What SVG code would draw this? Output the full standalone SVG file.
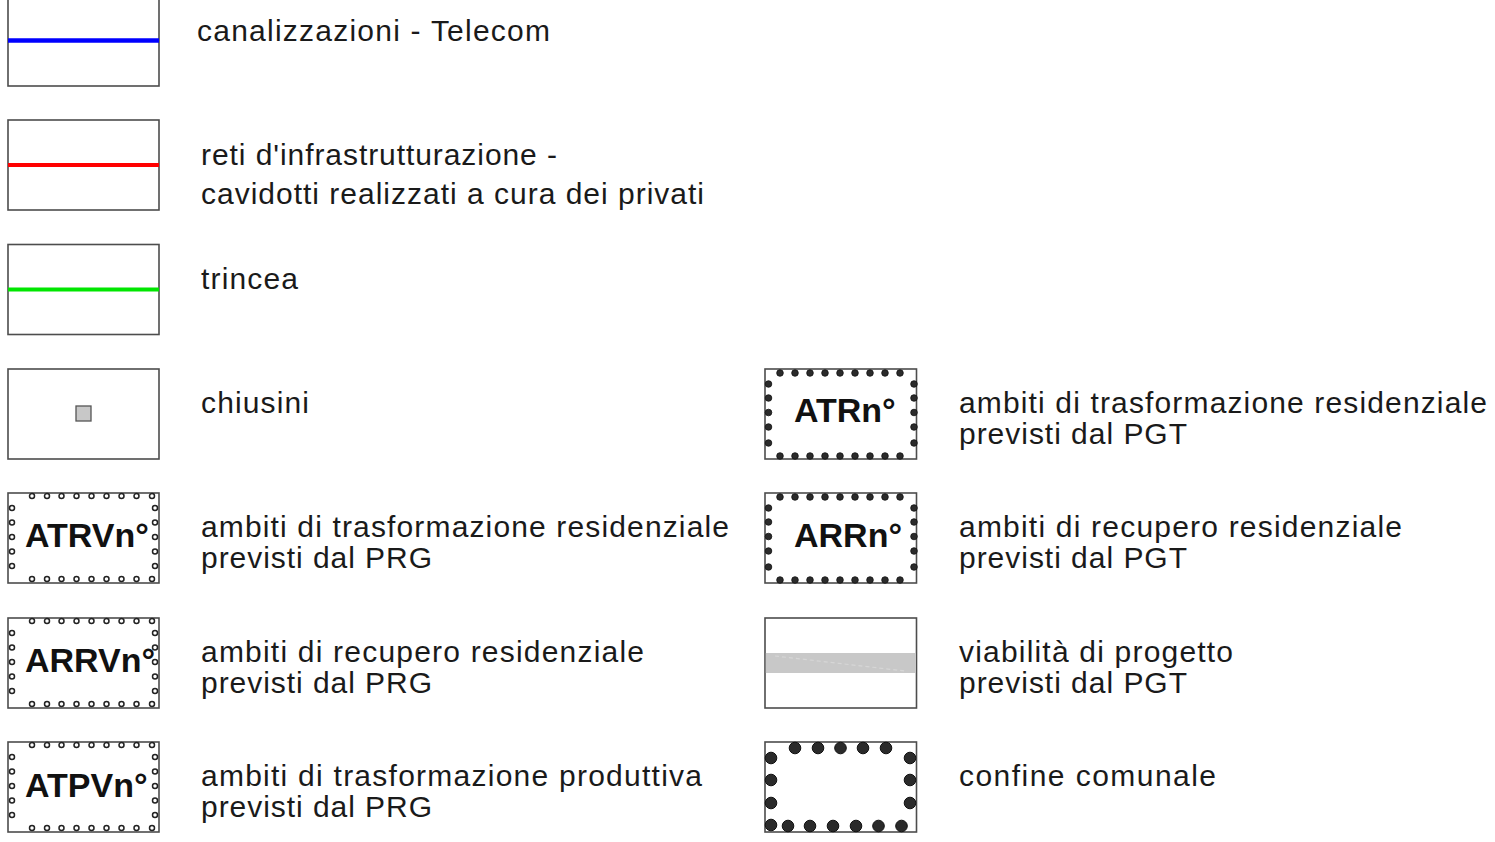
<svg xmlns="http://www.w3.org/2000/svg" width="1495" height="842" viewBox="0 0 1495 842">
<style>
.box{fill:#fff;stroke:#4d4d4d;stroke-width:1.6}
.t{font-family:"Liberation Sans",Arial,sans-serif;font-size:30px;fill:#1a1a1a}
.b{font-family:"Liberation Sans",Arial,sans-serif;font-size:34px;font-weight:bold;fill:#111}
.oc{fill:#fff;stroke:#222;stroke-width:1.5}
.fd{fill:#2b2b2b;stroke:#111;stroke-width:0.8}
.bd{fill:#2a2a2a;stroke:#111;stroke-width:1}
</style>
<defs>
<g id="openDots">
<circle class="oc" cx="24" cy="3" r="2.5"/><circle class="oc" cx="39" cy="3" r="2.5"/><circle class="oc" cx="53.5" cy="3" r="2.5"/><circle class="oc" cx="68.5" cy="3" r="2.5"/><circle class="oc" cx="83.5" cy="3" r="2.5"/><circle class="oc" cx="98.5" cy="3" r="2.5"/><circle class="oc" cx="113.5" cy="3" r="2.5"/><circle class="oc" cx="128.5" cy="3" r="2.5"/><circle class="oc" cx="144" cy="3" r="2.5"/>
<circle class="oc" cx="24" cy="86" r="2.5"/><circle class="oc" cx="39" cy="86" r="2.5"/><circle class="oc" cx="53.5" cy="86" r="2.5"/><circle class="oc" cx="68.5" cy="86" r="2.5"/><circle class="oc" cx="83.5" cy="86" r="2.5"/><circle class="oc" cx="98.5" cy="86" r="2.5"/><circle class="oc" cx="113.5" cy="86" r="2.5"/><circle class="oc" cx="128.5" cy="86" r="2.5"/><circle class="oc" cx="144" cy="86" r="2.5"/>
<circle class="oc" cx="4" cy="15" r="2.5"/><circle class="oc" cx="4" cy="29.5" r="2.5"/><circle class="oc" cx="4" cy="44" r="2.5"/><circle class="oc" cx="4" cy="58.5" r="2.5"/><circle class="oc" cx="4" cy="73" r="2.5"/>
<circle class="oc" cx="147" cy="15" r="2.5"/><circle class="oc" cx="147" cy="29.5" r="2.5"/><circle class="oc" cx="147" cy="44" r="2.5"/><circle class="oc" cx="147" cy="58.5" r="2.5"/><circle class="oc" cx="147" cy="73" r="2.5"/>
</g>
<g id="fillDots">
<circle class="fd" cx="15" cy="4" r="3.3"/><circle class="fd" cx="30" cy="4" r="3.3"/><circle class="fd" cx="45" cy="4" r="3.3"/><circle class="fd" cx="60" cy="4" r="3.3"/><circle class="fd" cx="75" cy="4" r="3.3"/><circle class="fd" cx="90" cy="4" r="3.3"/><circle class="fd" cx="105" cy="4" r="3.3"/><circle class="fd" cx="120" cy="4" r="3.3"/><circle class="fd" cx="135" cy="4" r="3.3"/>
<circle class="fd" cx="15" cy="87" r="3.3"/><circle class="fd" cx="30" cy="87" r="3.3"/><circle class="fd" cx="45" cy="87" r="3.3"/><circle class="fd" cx="60" cy="87" r="3.3"/><circle class="fd" cx="75" cy="87" r="3.3"/><circle class="fd" cx="90" cy="87" r="3.3"/><circle class="fd" cx="105" cy="87" r="3.3"/><circle class="fd" cx="120" cy="87" r="3.3"/><circle class="fd" cx="135" cy="87" r="3.3"/>
<circle class="fd" cx="3.5" cy="15" r="3.3"/><circle class="fd" cx="3.5" cy="29" r="3.3"/><circle class="fd" cx="3.5" cy="43.5" r="3.3"/><circle class="fd" cx="3.5" cy="58" r="3.3"/><circle class="fd" cx="3.5" cy="74" r="3.3"/>
<circle class="fd" cx="149" cy="15" r="3.3"/><circle class="fd" cx="149" cy="29" r="3.3"/><circle class="fd" cx="149" cy="43.5" r="3.3"/><circle class="fd" cx="149" cy="58" r="3.3"/><circle class="fd" cx="149" cy="74" r="3.3"/>
</g>
</defs>
<rect width="1495" height="842" fill="#fff"/>

<g id="telecom">
<rect class="box" x="8" y="-4" width="151" height="90"/>
<line x1="8" y1="40.5" x2="159" y2="40.5" stroke="#0000ff" stroke-width="4.5"/>
<text class="t" x="197" y="41" textLength="353">canalizzazioni - Telecom</text>
</g>
<g id="reti">
<rect class="box" x="8" y="120" width="151" height="90"/>
<line x1="8" y1="165" x2="159" y2="165" stroke="#ff0000" stroke-width="4"/>
<text class="t" x="201" y="165" textLength="356">reti d'infrastrutturazione -</text>
<text class="t" x="201" y="204" textLength="503">cavidotti realizzati a cura dei privati</text>
</g>
<g id="trincea">
<rect class="box" x="8" y="244.5" width="151" height="90"/>
<line x1="8" y1="289.5" x2="159" y2="289.5" stroke="#00e600" stroke-width="4"/>
<text class="t" x="201" y="289" textLength="97">trincea</text>
</g>
<g id="chiusini">
<rect class="box" x="8" y="369" width="151" height="90"/>
<rect x="76" y="406" width="15" height="15" fill="#c8c8c8" stroke="#555" stroke-width="1.3"/>
<text class="t" x="201" y="413" textLength="108">chiusini</text>
</g>
<g id="atrv">
<rect class="box" x="8" y="493" width="151" height="90"/>
<use href="#openDots" x="8" y="493"/>
<text class="b" x="25" y="547">ATRVn°</text>
<text class="t" x="201" y="537" textLength="528">ambiti di trasformazione residenziale</text>
<text class="t" x="201" y="568" textLength="231">previsti dal PRG</text>
</g>
<g id="arrv">
<rect class="box" x="8" y="618" width="151" height="90"/>
<use href="#openDots" x="8" y="618"/>
<text class="b" x="25" y="672">ARRVn°</text>
<text class="t" x="201" y="662" textLength="443">ambiti di recupero residenziale</text>
<text class="t" x="201" y="693" textLength="231">previsti dal PRG</text>
</g>
<g id="atpv">
<rect class="box" x="8" y="742" width="151" height="90"/>
<use href="#openDots" x="8" y="742"/>
<text class="b" x="25" y="797">ATPVn°</text>
<text class="t" x="201" y="786" textLength="501">ambiti di trasformazione produttiva</text>
<text class="t" x="201" y="817" textLength="231">previsti dal PRG</text>
</g>

<g id="atr">
<rect class="box" x="765" y="369" width="151.5" height="90"/>
<use href="#fillDots" x="765" y="369"/>
<text class="b" x="794" y="422">ATRn°</text>
<text class="t" x="959" y="413" textLength="528">ambiti di trasformazione residenziale</text>
<text class="t" x="959" y="444" textLength="228">previsti dal PGT</text>
</g>
<g id="arr">
<rect class="box" x="765" y="493" width="151.5" height="90"/>
<use href="#fillDots" x="765" y="493"/>
<text class="b" x="794" y="547">ARRn°</text>
<text class="t" x="959" y="537" textLength="443">ambiti di recupero residenziale</text>
<text class="t" x="959" y="568" textLength="228">previsti dal PGT</text>
</g>
<g id="viabilita">
<rect class="box" x="765" y="618" width="151.5" height="90"/>
<rect x="765.8" y="653" width="150" height="20" fill="#c8c8c8"/>
<line x1="775" y1="656" x2="905" y2="671" stroke="#d6d6d6" stroke-width="1.2" stroke-dasharray="4 3"/>
<text class="t" x="959" y="662" textLength="274">viabilità di progetto</text>
<text class="t" x="959" y="693" textLength="228">previsti dal PGT</text>
</g>
<g id="confine">
<rect class="box" x="765" y="742" width="151.5" height="90"/>
<circle class="bd" cx="795" cy="748" r="5.8"/><circle class="bd" cx="818" cy="748" r="5.8"/><circle class="bd" cx="840.5" cy="748" r="5.8"/><circle class="bd" cx="863" cy="748" r="5.8"/><circle class="bd" cx="886" cy="748" r="5.8"/>
<circle class="bd" cx="771" cy="758" r="5.8"/><circle class="bd" cx="771" cy="780" r="5.8"/><circle class="bd" cx="771" cy="803" r="5.8"/><circle class="bd" cx="771" cy="825" r="5.8"/>
<circle class="bd" cx="910" cy="758" r="5.8"/><circle class="bd" cx="910" cy="780" r="5.8"/><circle class="bd" cx="910" cy="803" r="5.8"/>
<circle class="bd" cx="788" cy="826" r="5.8"/><circle class="bd" cx="810" cy="826" r="5.8"/><circle class="bd" cx="833" cy="826" r="5.8"/><circle class="bd" cx="856" cy="826" r="5.8"/><circle class="bd" cx="878.5" cy="826" r="5.8"/><circle class="bd" cx="901.5" cy="826" r="5.8"/>
<text class="t" x="959" y="786" textLength="257">confine comunale</text>
</g>
<g id="connectors"/>
</svg>
